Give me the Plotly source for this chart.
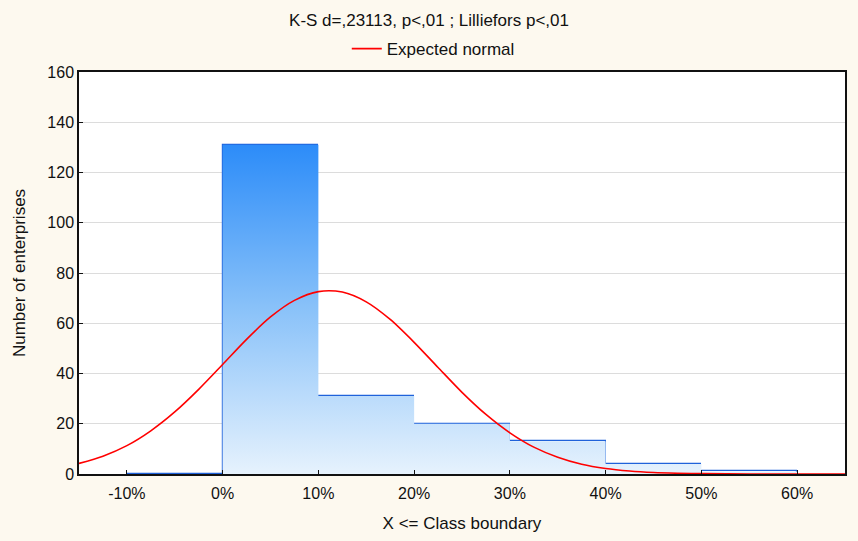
import plotly.graph_objects as go

# Histogram data (class boundaries in %)
bin_left = [-10, 0, 10, 20, 30, 40, 50]
bin_right = [0, 10, 20, 30, 40, 50, 60]
counts = [0, 131, 31, 20, 13, 4, 1]

# Expected normal curve
curve_x = [-15, -12.5, -10, -7.5, -5, -2.5, 0, 2.5, 5, 7.5, 10, 12.5, 15, 17.5, 20,
           22.5, 25, 27.5, 30, 32.5, 35, 37.5, 40, 42.5, 45, 47.5, 50, 55, 60, 65]
curve_y = [4.2, 7.1, 11.3, 17.2, 24.7, 33.7, 43.6, 53.6, 62.5, 69.1, 72.6, 72.4, 68.5, 61.5, 52.4,
           42.4, 32.5, 23.7, 16.4, 10.7, 6.7, 3.9, 2.2, 1.2, 0.6, 0.3, 0.13, 0.02, 0.0, 0.0]

x_ticks = [-10, 0, 10, 20, 30, 40, 50, 60]
x_tick_labels = ["-10%", "0%", "10%", "20%", "30%", "40%", "50%", "60%"]
y_ticks = [0, 20, 40, 60, 80, 100, 120, 140, 160]

title_text = "K-S d=,23113, p<,01 ; Lilliefors p<,01"
legend_text = "Expected normal"
x_title = "X <= Class boundary"
y_title = "Number of enterprises"

FONT = "Liberation Sans, Arial, sans-serif"
BG = "#FDF9EF"
BAR_LINE = "#1F62DA"
TXT = "#111111"

# gradient-filled bar polygons (absolute vertical gradient)
px, py = [], []
for l, r, c in zip(bin_left, bin_right, counts):
    if c <= 0:
        continue
    px += [l, l, r, r, l, None]
    py += [0, c, c, 0, 0, None]

fig = go.Figure()
fig.add_trace(go.Scatter(
    x=px, y=py, mode="lines", fill="toself",
    line=dict(width=0, color="rgba(0,0,0,0)"),
    fillgradient=dict(type="vertical", start=0, stop=max(counts),
                      colorscale=[[0, "#E6F2FD"], [0.5, "#8AC2F9"], [1, "#2C8CF9"]]),
    showlegend=False, hoverinfo="skip"))

centers = [(l + r) / 2 for l, r in zip(bin_left, bin_right)]
widths = [r - l for l, r in zip(bin_left, bin_right)]
fig.add_trace(go.Bar(
    x=centers, y=counts, width=widths,
    marker=dict(color="rgba(0,0,0,0)", line=dict(color=BAR_LINE, width=1.2)),
    showlegend=False, hoverinfo="skip"))

fig.add_trace(go.Scatter(
    x=curve_x, y=curve_y, mode="lines", name=legend_text,
    line=dict(color="#FF0000", width=1.6, shape="spline", smoothing=0.8)))

fig.update_layout(
    width=858, height=541,
    paper_bgcolor=BG, plot_bgcolor="white",
    margin=dict(l=79, r=13, t=72, b=67),
    font=dict(family=FONT, size=16, color=TXT),
    title=dict(text=title_text, x=0.5, xref="container", xanchor="center",
               y=0.963, yanchor="middle", font=dict(family=FONT, size=17, color=TXT)),
    showlegend=True,
    legend=dict(orientation="h", x=0.4625, xanchor="center", y=1.057, yanchor="middle",
                bgcolor="rgba(0,0,0,0)", font=dict(family=FONT, size=17, color=TXT),
                itemwidth=30),
    bargap=0,
)
fig.update_xaxes(
    range=[-15, 65], tickvals=x_ticks, ticktext=x_tick_labels,
    showgrid=False, zeroline=False, automargin=False,
    showline=True, linecolor=TXT, linewidth=1.5, mirror=True,
    ticks="inside", ticklen=4, tickcolor=TXT, ticklabelstandoff=4,
    tickfont=dict(family=FONT, size=16, color=TXT),
    title=dict(text=x_title, standoff=16, font=dict(family=FONT, size=17, color=TXT)),
)
fig.update_yaxes(
    range=[0, 160], tickvals=y_ticks,
    showgrid=True, gridcolor="#DCDCDC", gridwidth=1, zeroline=False, automargin=False,
    showline=True, linecolor=TXT, linewidth=1.5, mirror=True,
    ticks="inside", ticklen=4, tickcolor=TXT,
    tickfont=dict(family=FONT, size=16, color=TXT),
    title=dict(text=y_title, standoff=17, font=dict(family=FONT, size=17, color=TXT)),
)

fig.write_html("out.html", config={"displayModeBar": False},
               post_script="document.body.style.margin='0';")
